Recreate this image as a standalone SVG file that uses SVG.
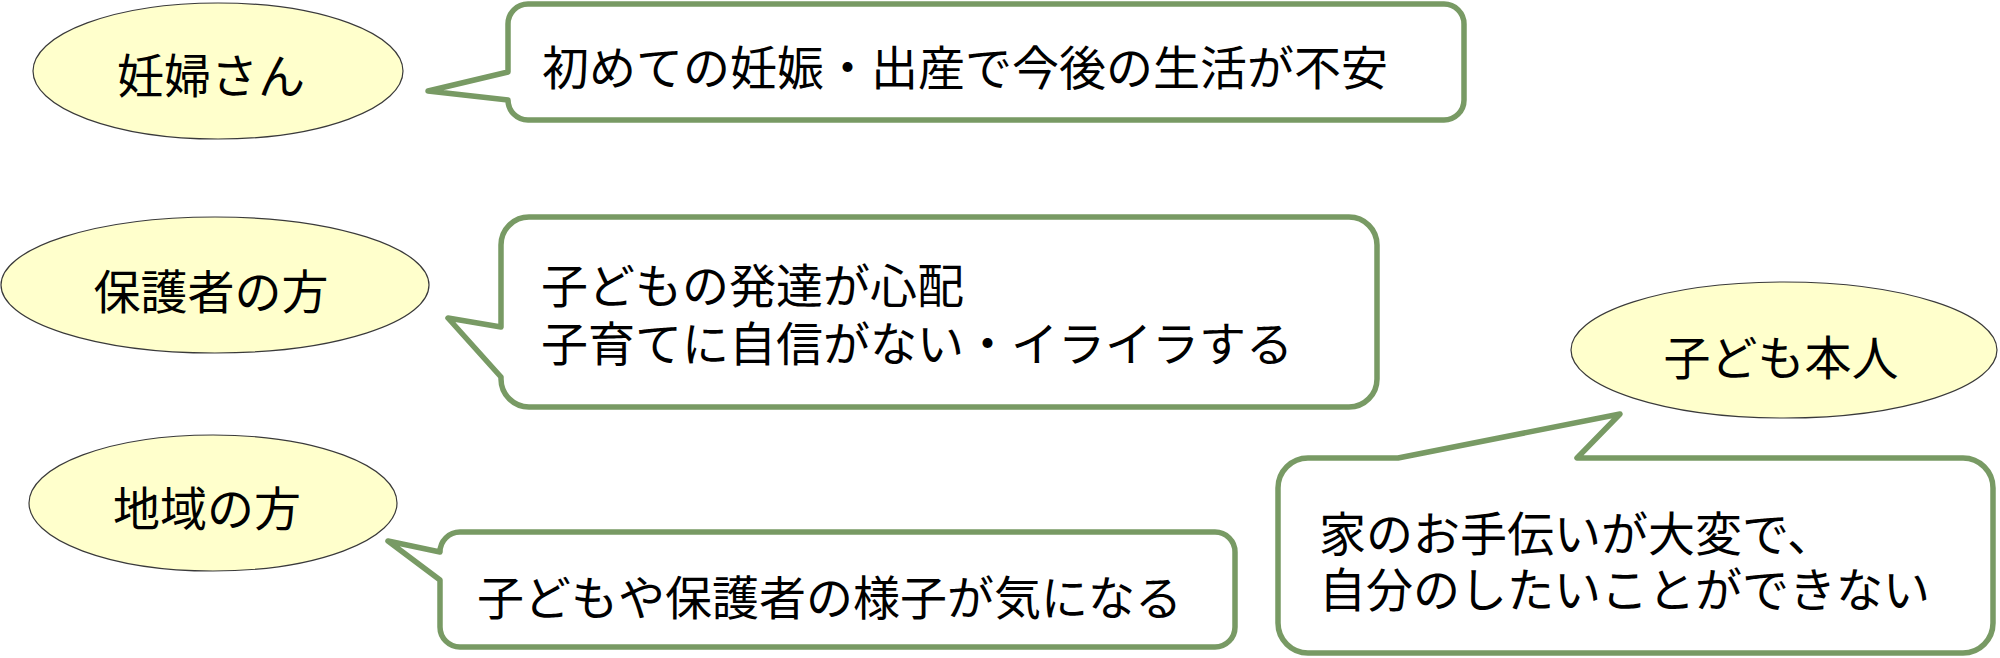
<svg xmlns="http://www.w3.org/2000/svg" width="2000" height="658" viewBox="0 0 2000 658">
<style>
.ell{fill:#FFFFCC;stroke:#3a3a3a;stroke-width:1.2}
.bub{fill:#FFFFFF;stroke:#789A64;stroke-width:5.5;stroke-linejoin:round}
text{font-family:"Noto Sans CJK JP","Noto Sans CJK SC",sans-serif;font-size:47px;fill:#000}
.c{text-anchor:middle}
</style>
<rect width="2000" height="658" fill="#FFFFFF"/>
<g id="node-ninpu">
<ellipse class="ell" cx="218" cy="71" rx="185" ry="68"/>
<text class="c" x="211" y="93">妊婦さん</text>
</g>
<g id="node-hogosha">
<ellipse class="ell" cx="215" cy="285" rx="214" ry="68"/>
<text class="c" x="211" y="309">保護者の方</text>
</g>
<g id="node-chiiki">
<ellipse class="ell" cx="213" cy="503" rx="184" ry="68"/>
<text class="c" x="207" y="526">地域の方</text>
</g>
<g id="node-kodomo">
<ellipse class="ell" cx="1784" cy="350" rx="213" ry="68"/>
<text class="c" x="1781" y="375">子ども本人</text>
</g>
<g id="connectors">
<g id="bubble-ninpu">
<path class="bub" d="M528,4 H1444 A20,20 0 0 1 1464,24 V100 A20,20 0 0 1 1444,120 H528 A20,20 0 0 1 508,100 L428,91 L508,72 V24 A20,20 0 0 1 528,4 Z"/>
<text x="542" y="85">初めての妊娠・出産で今後の生活が不安</text>
</g>
<g id="bubble-hogosha">
<path class="bub" d="M529,217 H1349 A28,28 0 0 1 1377,245 V379 A28,28 0 0 1 1349,407 H529 A28,28 0 0 1 501,379 V377 L448,318 L501,327 V245 A28,28 0 0 1 529,217 Z"/>
<text x="541" y="303">子どもの発達が心配</text>
<text x="541" y="361">子育てに自信がない・イライラする</text>
</g>
<g id="bubble-chiiki">
<path class="bub" d="M460,532 H1215 A20,20 0 0 1 1235,552 V627 A20,20 0 0 1 1215,647 H460 A20,20 0 0 1 440,627 V580 L388,541 L440,552 A20,20 0 0 1 460,532 Z"/>
<text x="477" y="615">子どもや保護者の様子が気になる</text>
</g>
<g id="bubble-kodomo">
<path class="bub" d="M1308,458 H1398 L1620,414 L1577,458 H1963 A30,30 0 0 1 1993,488 V623 A30,30 0 0 1 1963,653 H1308 A30,30 0 0 1 1278,623 V488 A30,30 0 0 1 1308,458 Z"/>
<text x="1319" y="551">家のお手伝いが大変で、</text>
<text x="1319" y="607">自分のしたいことができない</text>
</g>
</g>
</svg>
